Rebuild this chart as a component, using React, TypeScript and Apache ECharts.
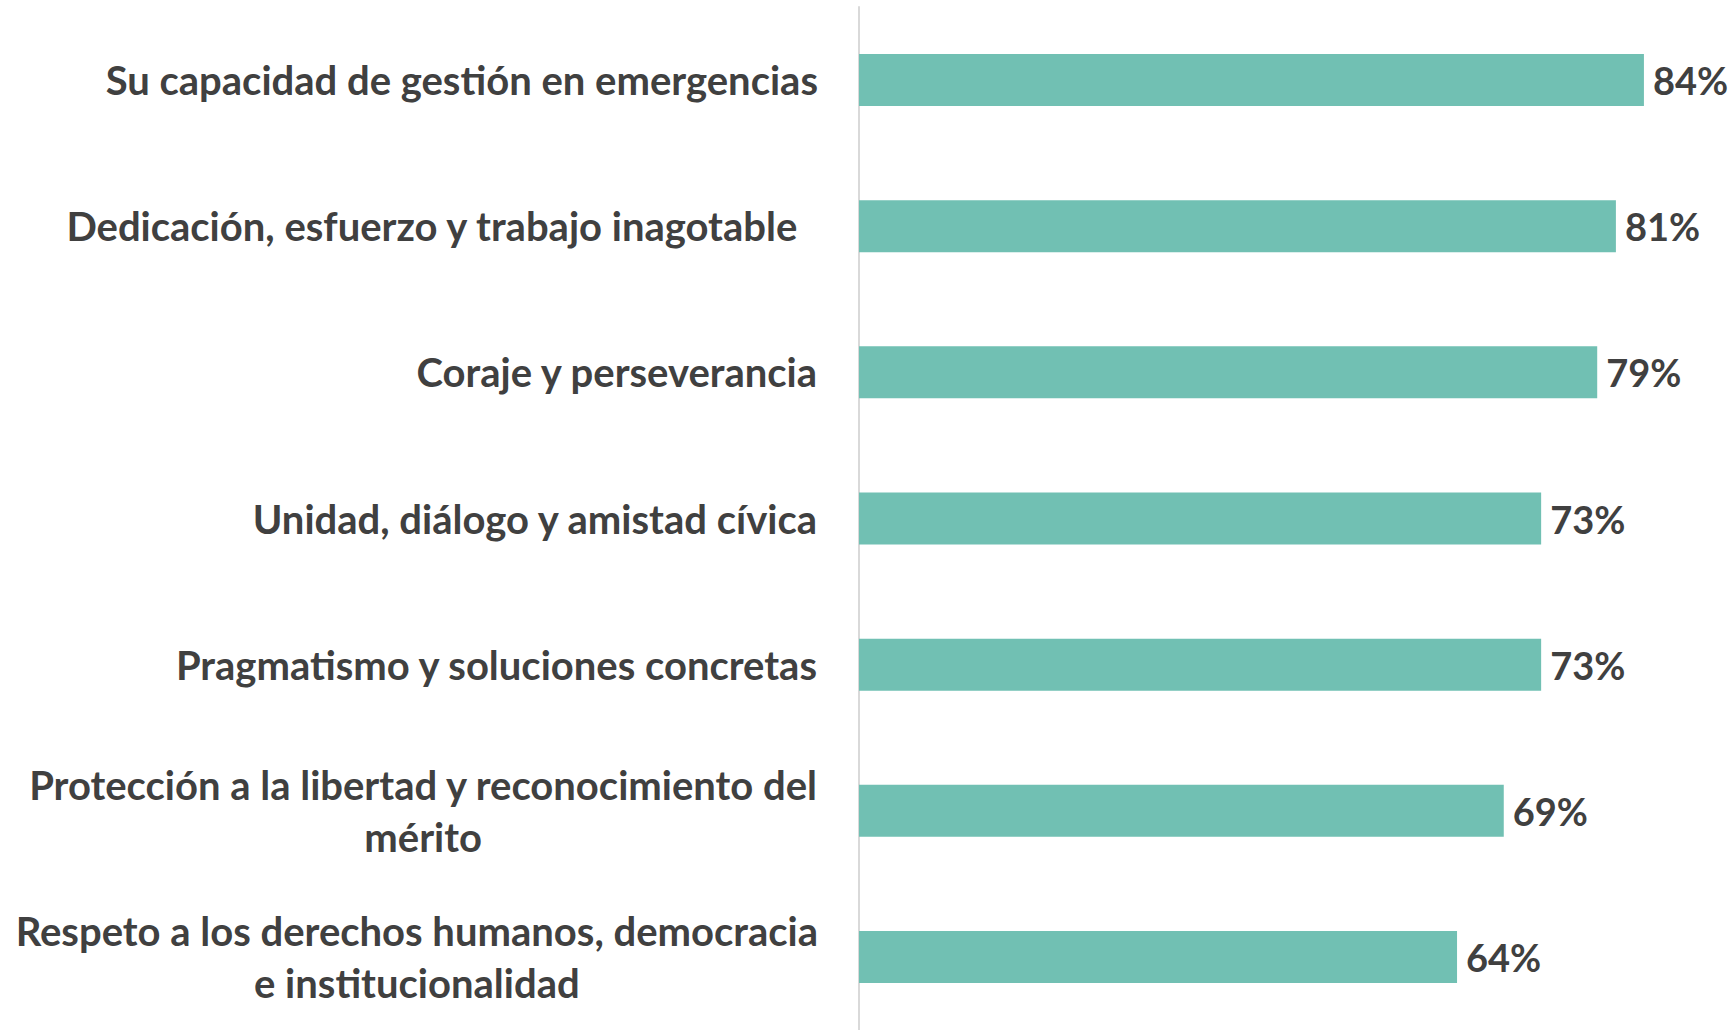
import React, { useEffect, useRef } from "react";
import * as echarts from "echarts";

const categories = [
  "Su capacidad de gestión en emergencias",
  "Dedicación, esfuerzo y trabajo inagotable\u00a0",
  "Coraje y perseverancia",
  "Unidad, diálogo y amistad cívica",
  "Pragmatismo y soluciones concretas",
  "Protección a la libertad y reconocimiento del\nmérito",
  "Respeto a los derechos humanos, democracia\ne institucionalidad",
];
const values = [84, 81, 79, 73, 73, 69, 64];

const FONT = "Lato";
const TEXT_COLOR = "#404040";
const BAR_COLOR = "#71c0b3";

const labelStyle = {
  align: "center",
  fontSize: 40,
  fontWeight: "bold",
  fontFamily: FONT,
  color: TEXT_COLOR,
  lineHeight: 52,
};

export default function App() {
  const ref = useRef<HTMLDivElement>(null);
  useEffect(() => {
    document.body.style.margin = "0";
    const chart = echarts.init(ref.current!, null, { renderer: "svg" });
    chart.setOption({
      animation: false,
      backgroundColor: "#ffffff",
      grid: { left: 859, top: 7, width: 841, height: 1026, containLabel: false },
      xAxis: {
        type: "value",
        min: 0,
        max: 90,
        show: false,
        splitLine: { show: false },
      },
      yAxis: {
        type: "category",
        inverse: true,
        data: categories,
        axisLine: { show: true, lineStyle: { color: "#d9d9d9", width: 2 } },
        axisTick: { show: false },
        splitLine: { show: false },
        axisLabel: {
          interval: 0,
          margin: 41,
          formatter: (v: string) =>
            v
              .split("\n")
              .map((l) => (l.endsWith("\u00a0") ? `{cp|${l}}` : `{c|${l}}`))
              .join("\n"),
          rich: {
            c: { ...labelStyle },
            cp: { ...labelStyle, padding: [0, 10, 0, 0] },
          },
        },
      },
      series: [
        {
          type: "bar",
          data: values,
          barWidth: 52,
          itemStyle: { color: BAR_COLOR },
          label: {
            show: true,
            position: "right",
            distance: 9,
            formatter: "{c}%",
            fontSize: 38,
            fontWeight: "bold",
            fontFamily: FONT,
            color: TEXT_COLOR,
          },
        },
      ],
    });
    return () => chart.dispose();
  }, []);
  return <div ref={ref} style={{ width: 1734, height: 1030 }} />;
}
